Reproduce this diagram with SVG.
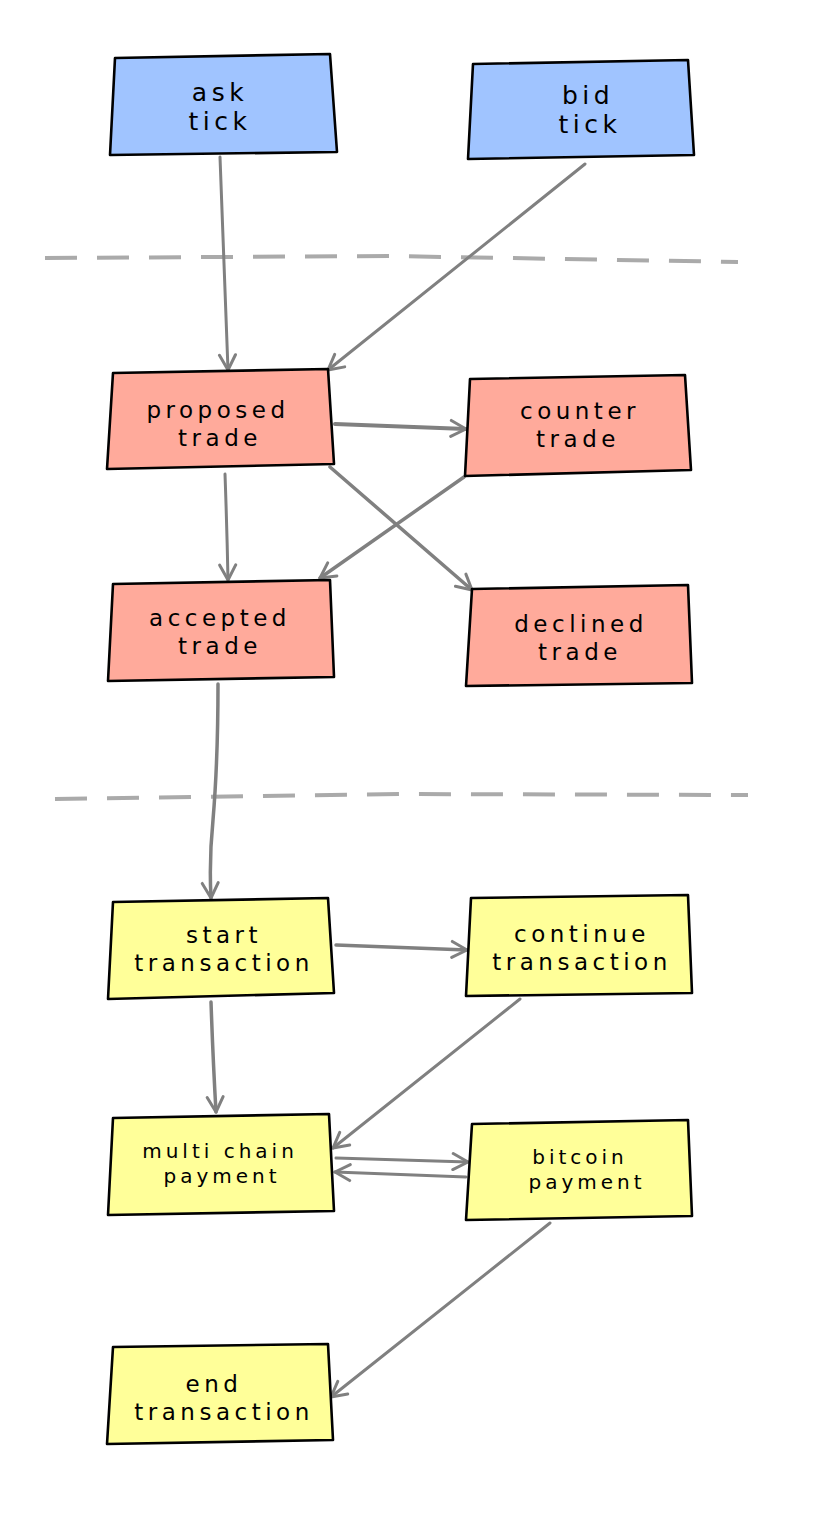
<svg xmlns="http://www.w3.org/2000/svg" width="825" height="1519" viewBox="0 0 825 1519">
<style>
.box{stroke:#000;stroke-width:2.6;stroke-linejoin:round}
.blue{fill:#a0c4ff}
.red{fill:#ffaa9b}
.yel{fill:#ffff99}
.t{font-family:"DejaVu Sans",sans-serif;font-size:23px;letter-spacing:4.5px;fill:#000;text-anchor:middle}
.big{font-size:25px;letter-spacing:4.5px}
.sm{font-size:20px;letter-spacing:4px}
.c{fill:none;stroke:#808080;stroke-width:3;stroke-linecap:round}
.dash{fill:none;stroke:#aaaaaa;stroke-width:4;stroke-dasharray:32 20}
</style>
<defs>
<marker id="ah" viewBox="0 0 20 20" refX="18" refY="10" markerWidth="20" markerHeight="20" markerUnits="userSpaceOnUse" orient="auto">
<path d="M3,2 L18,10 L3,18" fill="none" stroke="#808080" stroke-width="3" stroke-linecap="round" stroke-linejoin="round"/>
</marker>
</defs>
<rect width="825" height="1519" fill="#fff"/>
<g id="separators">
<path class="dash" d="M45,258 L390,256 L738,262"/>
<path class="dash" d="M55,799 L400,794 L748,795"/>
</g>
<g id="connectors">
<path class="c" marker-end="url(#ah)" d="M220,157 Q224,260 228,370"/>
<path class="c" marker-end="url(#ah)" d="M585,164 L328,370"/>
<path class="c" marker-end="url(#ah)" style="stroke-width:4" d="M335,424 L466,429"/>
<path class="c" marker-end="url(#ah)" d="M225,474 Q227,530 228,580"/>
<path class="c" marker-end="url(#ah)" style="stroke-width:3.5" d="M464,477 L320,578"/>
<path class="c" marker-end="url(#ah)" style="stroke-width:3.5" d="M330,467 L472,590"/>
<path class="c" marker-end="url(#ah)" style="stroke-width:3.5" d="M218,684 Q218,760 213,820 Q209,860 211,898"/>
<path class="c" marker-end="url(#ah)" style="stroke-width:3.5" d="M336,945 L467,950"/>
<path class="c" marker-end="url(#ah)" style="stroke-width:3.5" d="M211,1002 Q213,1060 216,1112"/>
<path class="c" marker-end="url(#ah)" d="M520,999 L333,1148"/>
<path class="c" marker-end="url(#ah)" d="M336,1158 L468,1162"/>
<path class="c" marker-end="url(#ah)" d="M466,1177 L335,1172"/>
<path class="c" marker-end="url(#ah)" d="M550,1223 L331,1397"/>
</g>
<g id="ask-tick">
<path class="box blue" d="M115,58 L330,54 L337,152 L110,155 Z"/>
<text class="t big" x="220" y="101">ask</text>
<text class="t big" x="220" y="130">tick</text>
</g>
<g id="bid-tick">
<path class="box blue" d="M473,64 L688,60 L694,155 L468,159 Z"/>
<text class="t big" x="588" y="104">bid</text>
<text class="t big" x="590" y="133">tick</text>
</g>
<g id="proposed-trade">
<path class="box red" d="M113,373 L328,369 L334,464 L107,469 Z"/>
<text class="t" x="218" y="418">proposed</text>
<text class="t" x="220" y="446">trade</text>
</g>
<g id="counter-trade">
<path class="box red" d="M470,379 L685,375 L691,470 L465,476 Z"/>
<text class="t" x="580" y="419">counter</text>
<text class="t" x="578" y="447">trade</text>
</g>
<g id="accepted-trade">
<path class="box red" d="M113,584 L330,580 L334,677 L108,681 Z"/>
<text class="t" x="220" y="626">accepted</text>
<text class="t" x="220" y="654">trade</text>
</g>
<g id="declined-trade">
<path class="box red" d="M472,589 L688,585 L692,683 L466,686 Z"/>
<text class="t" x="581" y="632">declined</text>
<text class="t" x="580" y="660">trade</text>
</g>
<g id="start-transaction">
<path class="box yel" d="M113,902 L328,898 L334,993 L108,999 Z"/>
<text class="t" x="224" y="943">start</text>
<text class="t" x="224" y="971">transaction</text>
</g>
<g id="continue-transaction">
<path class="box yel" d="M471,898 L688,895 L692,993 L466,996 Z"/>
<text class="t" x="582" y="942">continue</text>
<text class="t" x="582" y="970">transaction</text>
</g>
<g id="multi-chain-payment">
<path class="box yel" d="M113,1118 L329,1114 L334,1211 L108,1215 Z"/>
<text class="t sm" x="220" y="1158">multi chain</text>
<text class="t sm" x="222" y="1183">payment</text>
</g>
<g id="bitcoin-payment">
<path class="box yel" d="M472,1124 L688,1120 L692,1216 L466,1220 Z"/>
<text class="t sm" x="580" y="1164">bitcoin</text>
<text class="t sm" x="587" y="1189">payment</text>
</g>
<g id="end-transaction">
<path class="box yel" d="M113,1347 L328,1344 L333,1440 L107,1444 Z"/>
<text class="t" x="214" y="1392">end</text>
<text class="t" x="224" y="1420">transaction</text>
</g>
</svg>
